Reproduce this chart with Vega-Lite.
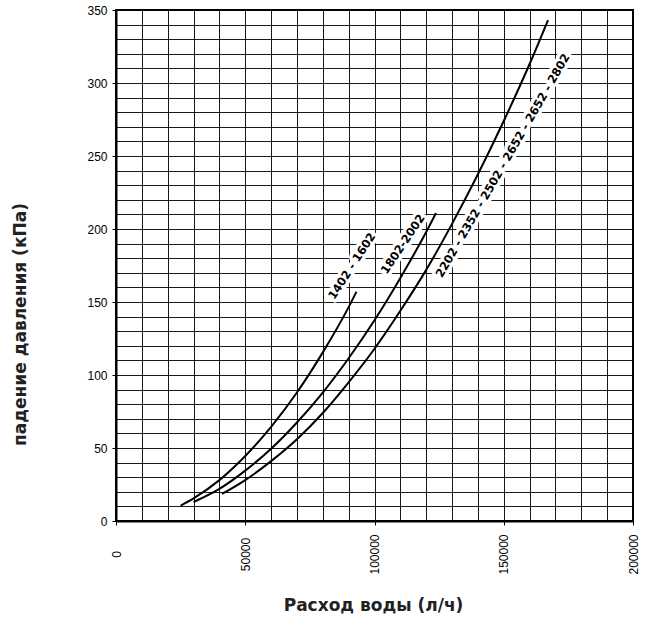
{
  "$schema": "https://vega.github.io/schema/vega-lite/v6.json",
  "width": 517,
  "height": 511,
  "autosize": {"type": "none"},
  "padding": {"left": 116, "top": 10, "right": 19, "bottom": 98},
  "background": "white",
  "config": {
    "view": {"stroke": "black", "strokeWidth": 2},
    "font": "Liberation Sans"
  },
  "datasets": {
    "curves": [
      {"series": "1402-1602", "q": 25000, "dp": 10.5},
      {"series": "1402-1602", "q": 30000, "dp": 15.5},
      {"series": "1402-1602", "q": 40000, "dp": 28},
      {"series": "1402-1602", "q": 50000, "dp": 44.5},
      {"series": "1402-1602", "q": 60000, "dp": 64.5},
      {"series": "1402-1602", "q": 70000, "dp": 88},
      {"series": "1402-1602", "q": 80000, "dp": 115.5},
      {"series": "1402-1602", "q": 90000, "dp": 146.5},
      {"series": "1402-1602", "q": 93000, "dp": 157},
      {"series": "1802-2002", "q": 30000, "dp": 13},
      {"series": "1802-2002", "q": 40000, "dp": 22},
      {"series": "1802-2002", "q": 50000, "dp": 34.5},
      {"series": "1802-2002", "q": 60000, "dp": 49.5},
      {"series": "1802-2002", "q": 70000, "dp": 67.5},
      {"series": "1802-2002", "q": 80000, "dp": 88},
      {"series": "1802-2002", "q": 90000, "dp": 111.5},
      {"series": "1802-2002", "q": 100000, "dp": 137.5},
      {"series": "1802-2002", "q": 110000, "dp": 166.5},
      {"series": "1802-2002", "q": 120000, "dp": 198},
      {"series": "1802-2002", "q": 123800, "dp": 211},
      {"series": "2202-2802", "q": 41000, "dp": 18.5},
      {"series": "2202-2802", "q": 50000, "dp": 28},
      {"series": "2202-2802", "q": 60000, "dp": 41},
      {"series": "2202-2802", "q": 70000, "dp": 56},
      {"series": "2202-2802", "q": 80000, "dp": 74},
      {"series": "2202-2802", "q": 90000, "dp": 95},
      {"series": "2202-2802", "q": 100000, "dp": 118},
      {"series": "2202-2802", "q": 110000, "dp": 144},
      {"series": "2202-2802", "q": 120000, "dp": 172},
      {"series": "2202-2802", "q": 130000, "dp": 203.5},
      {"series": "2202-2802", "q": 140000, "dp": 237.5},
      {"series": "2202-2802", "q": 150000, "dp": 274},
      {"series": "2202-2802", "q": 160000, "dp": 313},
      {"series": "2202-2802", "q": 167100, "dp": 343}
    ],
    "labels": [
      {"label": "1402 - 1602", "q": 91500, "dp": 174.3},
      {"label": "1802-2002", "q": 111200, "dp": 189.4},
      {"label": "2202 - 2352 - 2502 - 2652 - 2652 - 2802", "q": 149900, "dp": 243.2}
    ]
  },
  "encoding": {
    "x": {
      "field": "q",
      "type": "quantitative",
      "scale": {"domain": [0, 200000], "nice": false, "zero": true},
      "axis": {
        "values": [0, 10000, 20000, 30000, 40000, 50000, 60000, 70000, 80000, 90000, 100000, 110000, 120000, 130000, 140000, 150000, 160000, 170000, 180000, 190000, 200000],
        "format": "d",
        "labelExpr": "datum.value % 50000 === 0 ? datum.label : ''",
        "labelAngle": -90,
        "labelAlign": "center",
        "labelBaseline": "middle",
        "labelPadding": 29,
        "labelFontSize": 12,
        "labelColor": "black",
        "labelFont": "Liberation Sans",
        "tickSize": 4,
        "tickColor": "black",
        "tickOpacity": {"condition": {"test": "datum.value % 50000 === 0", "value": 1}, "value": 0},
        "grid": true,
        "gridColor": "black",
        "gridWidth": 1,
        "gridOpacity": 0.9,
        "domainColor": "black",
        "domainWidth": 2,
        "title": "Расход воды  (л/ч)",
        "titleFont": "DejaVu Sans",
        "titleFontSize": 17,
        "titleFontWeight": "bold",
        "titleColor": "#222",
        "titleX": 257,
        "titleY": 84,
        "titleAlign": "center",
        "titleBaseline": "middle"
      }
    },
    "y": {
      "field": "dp",
      "type": "quantitative",
      "scale": {"domain": [0, 350], "nice": false},
      "axis": {
        "values": [0, 10, 20, 30, 40, 50, 60, 70, 80, 90, 100, 110, 120, 130, 140, 150, 160, 170, 180, 190, 200, 210, 220, 230, 240, 250, 260, 270, 280, 290, 300, 310, 320, 330, 340, 350],
        "labelExpr": "datum.value % 50 === 0 ? datum.label : ''",
        "labelFontSize": 12,
        "labelColor": "black",
        "labelFont": "Liberation Sans",
        "labelPadding": 5,
        "tickSize": 4,
        "tickColor": "black",
        "tickOpacity": {"condition": {"test": "datum.value % 50 === 0", "value": 1}, "value": 0},
        "grid": true,
        "gridColor": "black",
        "gridWidth": 1,
        "gridOpacity": 0.9,
        "domainColor": "black",
        "domainWidth": 2,
        "title": "падение давления (кПа)",
        "titleFont": "DejaVu Sans",
        "titleFontSize": 17,
        "titleFontWeight": "bold",
        "titleColor": "#222",
        "titleAngle": -90,
        "titleX": -96,
        "titleY": 314,
        "titleAlign": "center",
        "titleBaseline": "middle"
      }
    }
  },
  "layer": [
    {
      "data": {"name": "curves"},
      "mark": {"type": "line", "color": "black", "strokeWidth": 2, "interpolate": "monotone"},
      "encoding": {"detail": {"field": "series"}}
    },
    {
      "data": {"name": "labels"},
      "transform": [{"filter": "datum.label === '1402 - 1602'"}],
      "layer": [
        {"mark": {"type": "text", "angle": -57, "font": "DejaVu Sans", "fontWeight": "bold", "fontSize": 11.5, "fill": "white", "stroke": "white", "strokeWidth": 7, "strokeJoin": "round", "align": "center", "baseline": "middle"}, "encoding": {"text": {"field": "label"}}},
        {"mark": {"type": "text", "angle": -57, "font": "DejaVu Sans", "fontWeight": "bold", "fontSize": 11.5, "fill": "black", "align": "center", "baseline": "middle"}, "encoding": {"text": {"field": "label"}}}
      ]
    },
    {
      "data": {"name": "labels"},
      "transform": [{"filter": "datum.label === '1802-2002'"}],
      "layer": [
        {"mark": {"type": "text", "angle": -56, "font": "DejaVu Sans", "fontWeight": "bold", "fontSize": 11.5, "fill": "white", "stroke": "white", "strokeWidth": 7, "strokeJoin": "round", "align": "center", "baseline": "middle"}, "encoding": {"text": {"field": "label"}}},
        {"mark": {"type": "text", "angle": -56, "font": "DejaVu Sans", "fontWeight": "bold", "fontSize": 11.5, "fill": "black", "align": "center", "baseline": "middle"}, "encoding": {"text": {"field": "label"}}}
      ]
    },
    {
      "data": {"name": "labels"},
      "transform": [{"filter": "datum.label === '2202 - 2352 - 2502 - 2652 - 2652 - 2802'"}],
      "layer": [
        {"mark": {"type": "text", "angle": -60, "font": "DejaVu Sans", "fontWeight": "bold", "fontSize": 11.5, "fill": "white", "stroke": "white", "strokeWidth": 7, "strokeJoin": "round", "align": "center", "baseline": "middle"}, "encoding": {"text": {"field": "label"}}},
        {"mark": {"type": "text", "angle": -60, "font": "DejaVu Sans", "fontWeight": "bold", "fontSize": 11.5, "fill": "black", "align": "center", "baseline": "middle"}, "encoding": {"text": {"field": "label"}}}
      ]
    }
  ]
}
